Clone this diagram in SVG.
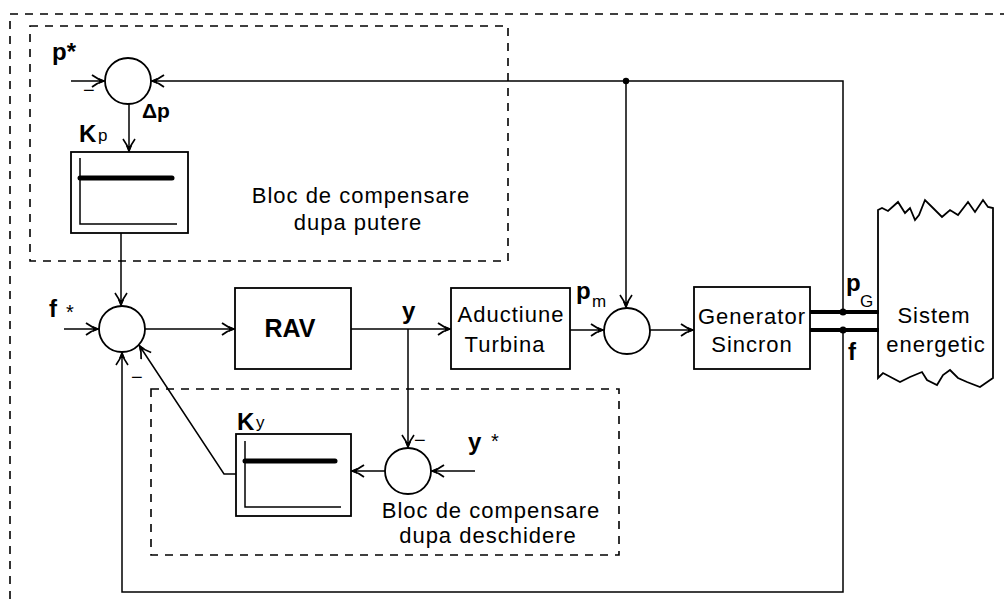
<svg xmlns="http://www.w3.org/2000/svg" width="1004" height="599" viewBox="0 0 1004 599">
<style>
.ln{fill:none;stroke:#000;stroke-width:1.5}
.bx{fill:#fff;stroke:#000;stroke-width:1.8}
.dash{fill:none;stroke:#000;stroke-width:1.6;stroke-dasharray:8 7}
.thick{fill:none;stroke:#000;stroke-width:4}
.bar{fill:none;stroke:#000;stroke-width:5;stroke-linecap:round}
.sum{fill:#fff;stroke:#000;stroke-width:1.8}
.t{font-family:"Liberation Sans",Arial,sans-serif;font-size:22px;letter-spacing:1px;fill:#000}
.b{font-family:"Liberation Sans",Arial,sans-serif;font-weight:bold;font-size:24px;fill:#000}
.s{font-family:"Liberation Sans",Arial,sans-serif;font-size:17px;fill:#000}
.m{font-family:"Liberation Sans",Arial,sans-serif;font-size:20px;fill:#000}
</style>
<defs>
<marker id="ah" viewBox="-15 -8 17 16" refX="0" refY="0" markerWidth="17" markerHeight="16" orient="auto" markerUnits="userSpaceOnUse">
<path d="M-13,-6 Q-7,-1.5 -1,0 Q-7,1.5 -13,6" fill="none" stroke="#000" stroke-width="1.7"/>
<path d="M-6,-2.8 L0,0 L-6,2.8 z" fill="#000"/>
</marker>
</defs>

<g id="frames">
<path class="dash" d="M10,599 V14 H1004"/>
<rect class="dash" x="30" y="26" width="478" height="235"/>
<rect class="dash" x="151" y="389" width="468" height="166"/>
</g>

<g id="connectors">
<path class="ln" d="M71,81 H105" marker-end="url(#ah)"/>
<path class="ln" d="M843,312 V81 H151" marker-end="url(#ah)"/>
<path class="ln" d="M626,81 V308" marker-end="url(#ah)"/>
<path class="ln" d="M129,104 V152" marker-end="url(#ah)"/>
<path class="ln" d="M121,233 V306" marker-end="url(#ah)"/>
<path class="ln" d="M64,329 H99" marker-end="url(#ah)"/>
<path class="ln" d="M145,329 H235" marker-end="url(#ah)"/>
<path class="ln" d="M351,329 H451" marker-end="url(#ah)"/>
<path class="ln" d="M408,329 V448" marker-end="url(#ah)"/>
<path class="ln" d="M475,471 H431" marker-end="url(#ah)"/>
<path class="ln" d="M385,471 H351" marker-end="url(#ah)"/>
<path class="ln" d="M236,474 H224 L139,345" marker-end="url(#ah)"/>
<path class="ln" d="M570,330 H604" marker-end="url(#ah)"/>
<path class="ln" d="M650,330 H694" marker-end="url(#ah)"/>
<path class="thick" d="M810,312 H879"/>
<path class="thick" d="M810,330 H879"/>
<path class="ln" d="M843,330 V592 H122 V352" marker-end="url(#ah)"/>
<circle cx="626" cy="81" r="3.2" fill="#000"/>
<circle cx="843" cy="312" r="3.5" fill="#000"/>
<circle cx="843" cy="330" r="3.5" fill="#000"/>
</g>

<g id="sum-p">
<circle class="sum" cx="128" cy="81" r="23"/>
<text class="b" x="52" y="60">p*</text>
<text class="m" x="83" y="97">−</text>
<text class="b" x="142" y="118" style="font-size:21px">Δp</text>
</g>

<g id="Kp">
<rect class="bx" x="71" y="152" width="117" height="81"/>
<path class="ln" d="M80,158 V224 H177"/>
<path class="bar" d="M80,178 H172"/>
<text class="b" x="79" y="142" style="font-size:24px">K</text>
<text class="s" x="98" y="141">p</text>
</g>

<g id="label-power">
<text class="t" x="361" y="203" text-anchor="middle">Bloc de compensare</text>
<text class="t" x="358" y="230" text-anchor="middle">dupa putere</text>
</g>

<g id="sum-f">
<circle class="sum" cx="122" cy="329" r="23"/>
<text class="b" x="49" y="317">f</text>
<text class="m" x="66" y="319">*</text>
<text class="m" x="131" y="384">−</text>
</g>

<g id="RAV">
<rect class="bx" x="235" y="288" width="116" height="81"/>
<text class="b" x="290" y="337" text-anchor="middle" style="font-size:25px">RAV</text>
</g>

<g id="y-label">
<text class="b" x="402" y="319">y</text>
</g>

<g id="Aductiune">
<rect class="bx" x="451" y="288" width="119" height="81"/>
<text class="t" x="511" y="322" text-anchor="middle">Aductiune</text>
<text class="t" x="505" y="352" text-anchor="middle">Turbina</text>
</g>

<g id="sum-m">
<circle class="sum" cx="627" cy="331" r="23"/>
<text class="b" x="576" y="299">p</text>
<text class="s" x="592" y="307">m</text>
</g>

<g id="Generator">
<rect class="bx" x="694" y="287" width="116" height="82"/>
<text class="t" x="752" y="324" text-anchor="middle">Generator</text>
<text class="t" x="752" y="352" text-anchor="middle">Sincron</text>
</g>

<g id="pG-f">
<text class="b" x="846" y="291">p</text>
<text class="s" x="860" y="307">G</text>
<text class="b" x="848" y="360">f</text>
</g>

<g id="Sistem">
<path class="ln" style="stroke-width:1.8" d="M878,378 V210 L882,208 L888,211 L898,202 L905,213 L910,208 L915,220 L919,215 L925,200 L933,208 L942,217 L950,210 L958,215 L968,202 L975,212 L983,200 L988,207 L993,208 V378 L980,387 L967,382 L958,378 L950,370 L943,375 L937,385 L927,380 L922,372 L910,377 L900,382 L883,373 Z"/>
<text class="t" x="934" y="323" text-anchor="middle">Sistem</text>
<text class="t" x="936" y="352" text-anchor="middle">energetic</text>
</g>

<g id="sum-y">
<circle class="sum" cx="408" cy="471" r="23"/>
<text class="m" x="414" y="447">−</text>
<text class="b" x="468" y="450">y</text>
<text class="m" x="491" y="448">*</text>
</g>

<g id="Ky">
<rect class="bx" x="236" y="434" width="115" height="82"/>
<path class="ln" d="M245,441 V507 H341"/>
<path class="bar" d="M245,461 H335"/>
<text class="b" x="237" y="430" style="font-size:24px">K</text>
<text class="s" x="256" y="428">y</text>
</g>

<g id="label-opening">
<text class="t" x="491" y="518" text-anchor="middle">Bloc de compensare</text>
<text class="t" x="488" y="543" text-anchor="middle">dupa deschidere</text>
</g>
</svg>
